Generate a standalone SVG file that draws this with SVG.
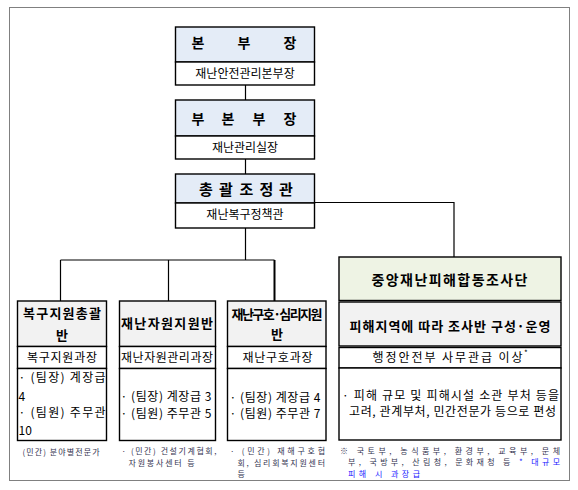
<svg xmlns="http://www.w3.org/2000/svg" width="578" height="490" viewBox="0 0 578 490">
<style>
text{font-family:"Noto Sans CJK KR","Noto Sans",sans-serif;fill:#000}
.h{font-weight:bold}
.box{fill:#fff;stroke:#000;stroke-width:1.4}
.blue{fill:#E4ECF7}
.gray{fill:#F2F2F2}
.green{fill:#EEF3E4}
.ln{stroke:#000;stroke-width:1.2;fill:none}
.s12{font-size:12px}
.note{font-size:8px;fill:#333350}
.nb{fill:#1a1aff}
</style>
<rect x="9.5" y="7.5" width="560" height="473" fill="none" stroke="#000" stroke-width="1" stroke-dasharray="1,1"/>
<g id="connectors">
<path class="ln" d="M245.5 85V100M245.5 159V174M245.5 228V260M314.5 202.5H454V257M60.5 260H274.5M60.5 260V301M168.5 260V301"/>
<path d="M274.5 260V301" stroke="#000" stroke-width="2"/>
</g>
<g id="bonbujang">
<rect class="box blue" x="175.5" y="27" width="139" height="35"/>
<rect class="box" x="175.5" y="62" width="139" height="23"/>
<text class="h" font-size="14" y="48" text-anchor="middle"><tspan x="198">본</tspan><tspan x="244">부</tspan><tspan x="290">장</tspan></text>
<text class="s12" x="245" y="78" text-anchor="middle">재난안전관리본부장</text>
</g>
<g id="bubonbujang">
<rect class="box blue" x="175.5" y="100" width="139" height="36"/>
<rect class="box" x="175.5" y="136" width="139" height="23"/>
<text class="h" font-size="14" y="123.5" text-anchor="middle"><tspan x="198">부</tspan><tspan x="228">본</tspan><tspan x="259">부</tspan><tspan x="290">장</tspan></text>
<text class="s12" x="245" y="152" text-anchor="middle">재난관리실장</text>
</g>
<g id="chonggwal">
<rect class="box blue" x="175.5" y="174" width="139" height="29"/>
<rect class="box" x="175.5" y="203" width="139" height="25"/>
<text class="h" font-size="15" y="194.5" text-anchor="middle"><tspan x="206">총</tspan><tspan x="226">괄</tspan><tspan x="246.5">조</tspan><tspan x="266.5">정</tspan><tspan x="286">관</tspan></text>
<text class="s12" x="245" y="219" text-anchor="middle">재난복구정책관</text>
</g>
<g id="bokgu">
<rect class="box gray" x="17.5" y="301" width="89" height="45.5"/>
<rect class="box" x="17.5" y="346.5" width="89" height="22"/>
<rect class="box" x="17.5" y="368.5" width="89" height="72"/>
<text class="h" font-size="13" x="62" y="318" text-anchor="middle" textLength="78" lengthAdjust="spacing">복구지원총괄</text>
<text class="h" font-size="13" x="62" y="340" text-anchor="middle">반</text>
<text class="s12" x="62" y="362" text-anchor="middle" textLength="70" lengthAdjust="spacing">복구지원과장</text>
<text class="s12" x="18.5" y="382" textLength="87" lengthAdjust="spacing">· (팀장) 계장급</text>
<text class="s12" x="18.5" y="400.5">4</text>
<text class="s12" x="18.5" y="417" textLength="87" lengthAdjust="spacing">· (팀원) 주무관</text>
<text class="s12" x="18.5" y="434.5">10</text>
<text class="note" x="22.5" y="455" textLength="77" lengthAdjust="spacing">(민간) 분야별전문가</text>
</g>
<g id="jawon">
<rect class="box gray" x="119.5" y="301" width="96" height="45.5"/>
<rect class="box" x="119.5" y="346.5" width="96" height="22"/>
<rect class="box" x="119.5" y="368.5" width="96" height="72"/>
<text class="h" font-size="13" x="167" y="328" text-anchor="middle" textLength="92" lengthAdjust="spacing">재난자원지원반</text>
<text class="s12" x="167" y="362" text-anchor="middle" textLength="92" lengthAdjust="spacing">재난자원관리과장</text>
<text class="s12" x="120.5" y="401" textLength="91" lengthAdjust="spacing">· (팀장) 계장급 3</text>
<text class="s12" x="120.5" y="417.5" textLength="91" lengthAdjust="spacing">· (팀원) 주무관 5</text>
<text class="note" x="121.5" y="454" textLength="95" lengthAdjust="spacing">· (민간) 건설기계협회,</text>
<text class="note" x="128.5" y="465.7" textLength="66" lengthAdjust="spacing">자원봉사센터 등</text>
</g>
<g id="guho">
<rect class="box gray" x="227.5" y="301" width="98.5" height="45.5"/>
<rect class="box" x="227.5" y="346.5" width="98.5" height="22"/>
<rect class="box" x="227.5" y="368.5" width="98.5" height="72"/>
<text class="h" font-size="13" x="277" y="319" text-anchor="middle" textLength="91" lengthAdjust="spacing">재난구호·심리지원</text>
<text class="h" font-size="13" x="277" y="338.5" text-anchor="middle">반</text>
<text class="s12" x="277.5" y="362" text-anchor="middle" textLength="70" lengthAdjust="spacing">재난구호과장</text>
<text class="s12" x="229.5" y="401.5" textLength="91" lengthAdjust="spacing">· (팀장) 계장급 4</text>
<text class="s12" x="229.5" y="417.5" textLength="91" lengthAdjust="spacing">· (팀원) 주무관 7</text>
<text class="note" x="230" y="454" textLength="95" lengthAdjust="spacing">· (민간) 재해구호협</text>
<text class="note" x="237.5" y="465.7" textLength="87.5" lengthAdjust="spacing">회, 심리회복지원센터</text>
<text class="note" x="237.5" y="477.4">등</text>
</g>
<g id="josadan">
<rect class="box green" x="339" y="257" width="222" height="43.5"/>
<rect class="box gray" x="339" y="302" width="222" height="44"/>
<rect class="box" x="339" y="347.5" width="222" height="20.5"/>
<rect class="box" x="339" y="368" width="222" height="72"/>
<text class="h" font-size="14" x="449.5" y="284.5" text-anchor="middle" textLength="156" lengthAdjust="spacing">중앙재난피해합동조사단</text>
<text class="h" font-size="13" x="450" y="330.5" text-anchor="middle" textLength="201" lengthAdjust="spacing">피해지역에 따라 조사반 구성·운영</text>
<text class="s12" x="372.5" y="362" textLength="150" lengthAdjust="spacing">행정안전부 사무관급 이상</text>
<text font-size="8" x="524" y="356">*</text>
<text class="s12" x="342" y="399.5" textLength="217" lengthAdjust="spacing">· 피해 규모 및 피해시설 소관 부처 등을</text>
<text class="s12" x="349" y="416" textLength="207" lengthAdjust="spacing">고려, 관계부처, 민간전문가 등으로 편성</text>
<text class="note" x="340" y="453.5" textLength="220" lengthAdjust="spacing">※  국토부,  농식품부,  환경부,  교육부,  문체</text>
<text class="note" x="348" y="465.2" textLength="212" lengthAdjust="spacing">부,  국방부,  산림청,  문화재청  등  <tspan class="nb">*  대규모</tspan></text>
<text class="note nb" x="348" y="476.9" textLength="72" lengthAdjust="spacing">피해 시 과장급</text>
</g>
</svg>
